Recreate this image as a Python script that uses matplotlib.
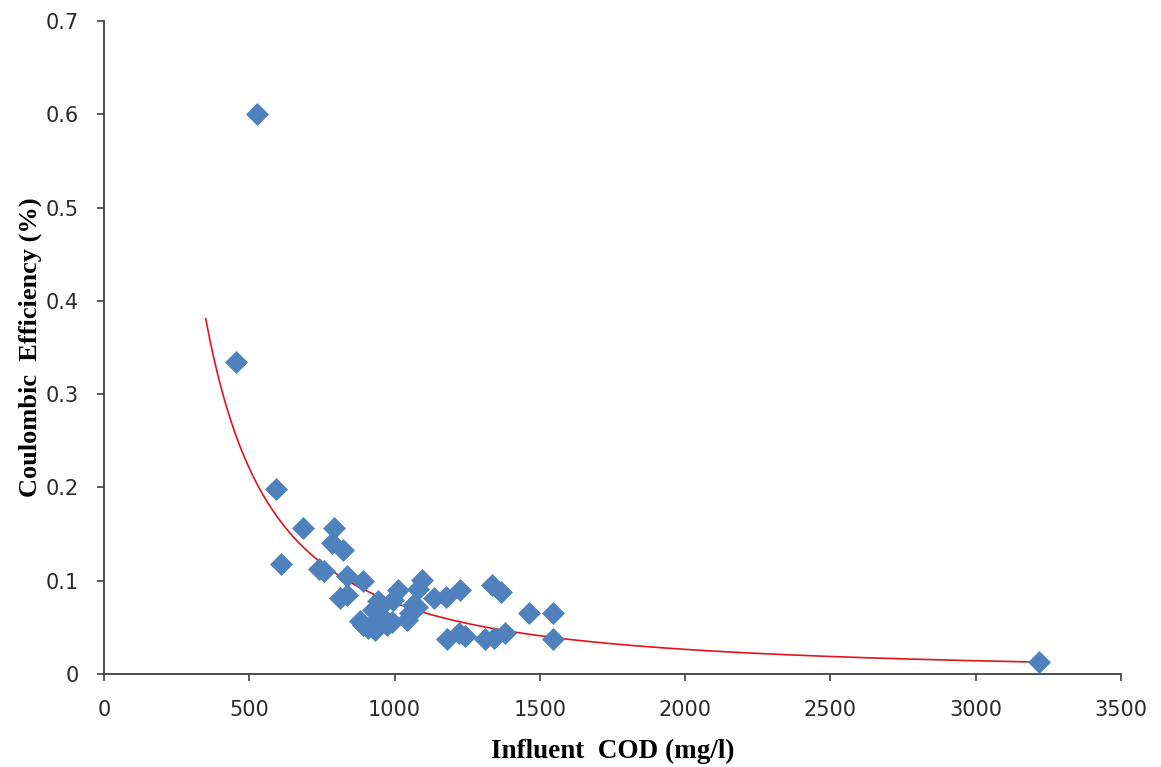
import numpy as np
import matplotlib
matplotlib.use("Agg")
import matplotlib.pyplot as plt

# Data
cod = [526, 454, 592, 608, 686, 793, 783, 822, 740, 757,
       835, 893, 812, 836, 881, 892, 910, 927, 932, 927,
       950, 944, 973, 990, 996, 960, 1013, 1042, 1053, 1064,
       1076, 1082, 1093, 1136, 1176, 1225, 1334, 1368, 1464, 1544,
       1544, 1182, 1222, 1242, 1311, 1342, 1380, 3217]
ce = [0.600, 0.334, 0.198, 0.118, 0.157, 0.156, 0.140, 0.133, 0.113, 0.110,
      0.105, 0.100, 0.081, 0.085, 0.057, 0.053, 0.049, 0.051, 0.047, 0.069,
      0.072, 0.078, 0.053, 0.056, 0.079, 0.060, 0.090, 0.058, 0.065, 0.074,
      0.072, 0.091, 0.101, 0.081, 0.083, 0.090, 0.095, 0.088, 0.065, 0.065,
      0.037, 0.037, 0.044, 0.041, 0.037, 0.039, 0.044, 0.013]

x_ticks = [0, 500, 1000, 1500, 2000, 2500, 3000, 3500]
y_ticks = [0, 0.1, 0.2, 0.3, 0.4, 0.5, 0.6, 0.7]
y_tick_labels = ["0", "0.1", "0.2", "0.3", "0.4", "0.5", "0.6", "0.7"]
trend_start = 350  # backward forecast start of the power trendline

x = np.array(cod, dtype=float)
y = np.array(ce, dtype=float)
b, loga = np.polyfit(np.log(x), np.log(y), 1)
a = np.exp(loga)
xt = np.linspace(trend_start, x.max(), 400)
yt = a * xt ** b

fig = plt.figure(figsize=(11.61, 7.67), dpi=100)
ax = fig.add_axes([0.0896, 0.1213, 0.8759, 0.8513])

ax.plot(xt, yt, color="#E0141E", lw=1.2, zorder=2)
ax.plot(x, y, linestyle="none", marker="D", markersize=11,
        color="#4F81BD", markeredgecolor="#4F81BD", markeredgewidth=0.5, zorder=3)

ax.set_xlim(0, 3500)
ax.set_ylim(0, 0.7)
ax.set_xticks(x_ticks)
ax.set_yticks(y_ticks)
ax.set_yticklabels(y_tick_labels)

for s in ["top", "right"]:
    ax.spines[s].set_visible(False)
for s in ["left", "bottom"]:
    ax.spines[s].set_color("#404040")
    ax.spines[s].set_linewidth(1.3)

ax.tick_params(axis="both", direction="out", length=5, width=1.2, color="#404040",
               labelsize=15, labelcolor="#2a2a2a")
ax.tick_params(axis="x", pad=14)
ax.tick_params(axis="y", pad=13)
for lab in ax.get_xticklabels() + ax.get_yticklabels():
    lab.set_family("DejaVu Sans")

ax.set_xlabel("Influent  COD (mg/l)", fontsize=19.5, fontweight="bold",
              family="Liberation Serif", labelpad=13)
ax.set_ylabel("Coulombic  Efficiency (%)", fontsize=19, fontweight="bold",
              family="Liberation Serif", labelpad=3)

fig.savefig("out.png", dpi=100)
